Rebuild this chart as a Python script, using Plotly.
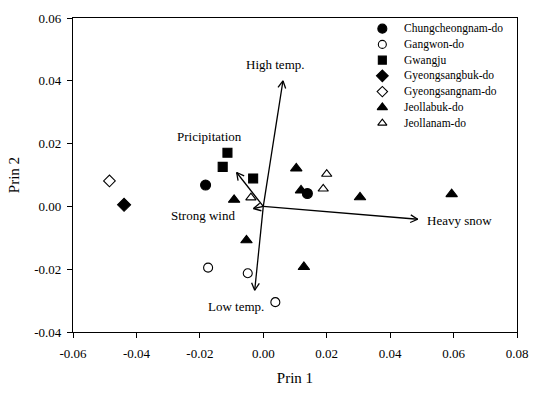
import plotly.graph_objects as go
import numpy as np

# ---- data ----
groups = ["Chungcheongnam-do", "Gangwon-do", "Gwangju", "Gyeongsangbuk-do",
          "Gyeongsangnam-do", "Jeollabuk-do", "Jeollanam-do"]
symbols = ["circle", "circle-open", "square", "diamond", "diamond-open",
           "triangle-up", "triangle-up-open"]

chung_x = [-0.0182, 0.0139]
chung_y = [0.0068, 0.0041]
gangwon_x = [-0.0174, -0.0049, 0.0038]
gangwon_y = [-0.0195, -0.0213, -0.0305]
gwangju_x = [-0.0113, -0.0128, -0.0032]
gwangju_y = [0.0171, 0.0126, 0.0089]
gbuk_x = [-0.0439]
gbuk_y = [0.0005]
gnam_x = [-0.0485]
gnam_y = [0.0081]
jbuk_x = [-0.0092, 0.0104, 0.0119, 0.0305, 0.0594, -0.0053, 0.0128]
jbuk_y = [0.0021, 0.0121, 0.0051, 0.0029, 0.0039, -0.0108, -0.0193]
jnam_x = [-0.0039, 0.0200, 0.0189]
jnam_y = [0.0028, 0.0103, 0.0056]

xs = [chung_x, gangwon_x, gwangju_x, gbuk_x, gnam_x, jbuk_x, jnam_x]
ys = [chung_y, gangwon_y, gwangju_y, gbuk_y, gnam_y, jbuk_y, jnam_y]

# loading vectors
vec_names = ["High temp.", "Pricipitation", "Strong wind", "Heavy snow", "Low temp."]
vec_x = [0.0062, -0.0084, -0.0031, 0.0487, -0.0027]
vec_y = [0.0400, 0.0108, -0.0007, -0.0041, -0.0267]
lab_x = [0.0040, -0.0169, -0.0190, 0.0510, -0.0087]
lab_y = [0.0452, 0.0222, -0.0029, -0.0046, -0.0318]
lab_anchor = ["center", "center", "center", "left", "center"]

xticks = [-0.06, -0.04, -0.02, 0.00, 0.02, 0.04, 0.06, 0.08]
xticklabels = ["-0.06", "-0.04", "-0.02", "0.00", "0.02", "0.04", "0.06", "0.08"]
yticks = [-0.04, -0.02, 0.00, 0.02, 0.04, 0.06]
yticklabels = ["-0.04", "-0.02", "0.00", "0.02", "0.04", "0.06"]

FONT = "Liberation Serif"
W, H = 539, 394
ML, MR, MT, MB = 73, 11, 13, 56

fig = go.Figure()

# arrows (lines + open V heads), built from the vectors
head_len = 0.0026
ang = np.deg2rad(28)
ax_l, ay_l = [], []
for vx, vy in zip(vec_x, vec_y):
    ax_l += [0, vx, None]
    ay_l += [0, vy, None]
    d = np.array([-vx, -vy]) / np.hypot(vx, vy)
    for s in (1, -1):
        c, sn = np.cos(s * ang), np.sin(s * ang)
        r = np.array([c * d[0] - sn * d[1], sn * d[0] + c * d[1]]) * head_len
        ax_l += [vx, vx + r[0], None]
        ay_l += [vy, vy + r[1], None]
fig.add_trace(go.Scatter(x=ax_l, y=ay_l, mode="lines",
                         line=dict(color="black", width=1.3),
                         showlegend=False, hoverinfo="skip"))

sizes = [10, 9, 9, 10, 9, 10, 9]
for name, sym, x, y, sz in zip(groups, symbols, xs, ys, sizes):
    fig.add_trace(go.Scatter(
        x=x, y=y, mode="markers", name=name, showlegend=False,
        marker=dict(symbol=sym, size=sz, color="black",
                    line=dict(color="black", width=1.1))))

for t, x, y, a in zip(vec_names, lab_x, lab_y, lab_anchor):
    fig.add_annotation(x=x, y=y, text=t, showarrow=False, xanchor=a,
                       font=dict(family=FONT, size=13, color="black"))

# ---- custom legend (pixel layout on an overlay axis) ----
leg_x0, leg_y0, leg_dy, leg_gap = 390, 24, 16.3, 20
leg_sizes = [9, 8, 8, 9, 8, 9, 8]
for i, (name, sym, sz) in enumerate(zip(groups, symbols, leg_sizes)):
    yy = leg_y0 + i * leg_dy
    fig.add_trace(go.Scatter(
        x=[leg_x0], y=[yy], xaxis="x2", yaxis="y2", mode="markers",
        showlegend=False, hoverinfo="skip",
        marker=dict(symbol=sym, size=sz, color="black",
                    line=dict(color="black", width=1.1))))
    fig.add_annotation(x=leg_x0 + leg_gap, y=yy, xref="x2", yref="y2",
                       text=name, showarrow=False, xanchor="left",
                       font=dict(family=FONT, size=11.5, color="black"))

axis_common = dict(showgrid=False, zeroline=False, showline=True,
                   linecolor="black", linewidth=1.3, mirror=True,
                   ticks="outside", ticklen=5, tickwidth=1.2, tickcolor="black",
                   tickfont=dict(family=FONT, size=13, color="black"))

fig.update_layout(
    xaxis=dict(range=[-0.06, 0.08], tickvals=xticks, ticktext=xticklabels,
               ticklabelstandoff=4,
               title=dict(text="Prin 1", font=dict(family=FONT, size=15, color="black"),
                          standoff=12), **axis_common),
    yaxis=dict(range=[-0.04, 0.06], tickvals=yticks, ticktext=yticklabels,
               ticklabelstandoff=3,
               title=dict(text="Prin 2", font=dict(family=FONT, size=15, color="black"),
                          standoff=10), **axis_common),
    xaxis2=dict(range=[ML, W - MR], overlaying="x", visible=False, anchor="y2"),
    yaxis2=dict(range=[H - MB, MT], overlaying="y", visible=False, anchor="x2"),
    width=W, height=H,
    margin=dict(l=ML, r=MR, t=MT, b=MB),
    plot_bgcolor="white", paper_bgcolor="white",
    font=dict(family=FONT, color="black"),
    showlegend=False,
)

fig.write_html("out.html")
